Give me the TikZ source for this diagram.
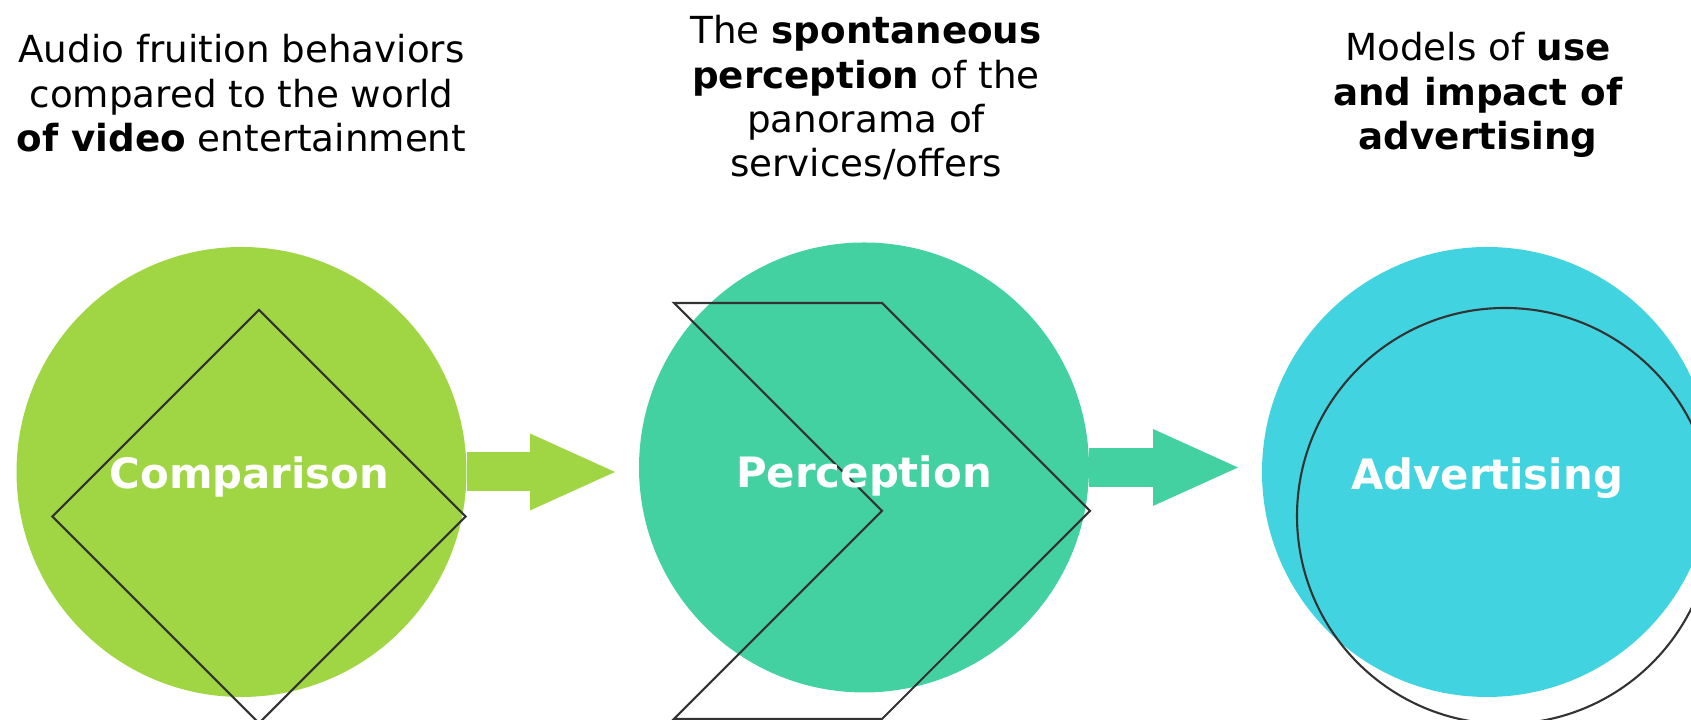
\documentclass[tikz,border=0pt]{standalone}
\usepackage{fontspec}
\setmainfont{DejaVu Sans}
\usetikzlibrary{arrows.meta,shapes.geometric}
\definecolor{cmpgreen}{HTML}{A0D543}
\definecolor{pergreen}{HTML}{44D1A1}
\definecolor{advcyan}{HTML}{41D4E0}
\definecolor{edge}{HTML}{333333}

\begin{document}
\begin{tikzpicture}[
    disc/.style={circle,minimum size=4.5cm,inner sep=0pt,outer sep=0pt},
    outline/.style={draw=edge,line width=0.6pt},
    tag/.style={text=white,font=\fontsize{11.9}{14}\selectfont\bfseries},
    caption/.style={align=center,anchor=north,inner sep=0pt,font=\fontsize{10.6}{12.6}\selectfont},
    flow/.style={line width=0.39cm,-{Triangle[length=0.85cm,width=0.77cm,line width=0pt]}}]

  \useasboundingbox (0,0) rectangle (16.91,7.2);
  \clip (0,0) rectangle (16.91,7.2);

  \node[disc,fill=cmpgreen] (cmp) at (2.415,2.48)  {};
  \node[disc,fill=pergreen] (per) at (8.64,2.525)  {};
  \node[disc,fill=advcyan]  (adv) at (14.87,2.48)  {};

  \coordinate (cmptip) at (6.15,2.48);
  \coordinate (pertip) at (12.38,2.525);
  \draw[flow,cmpgreen] (cmp.east) -- (cmptip);
  \draw[flow,pergreen] (per.east) -- (pertip);

  % outlines on top of the discs
  \node[diamond,outline,aspect=1,minimum width=4.14cm,minimum height=4.14cm,inner sep=0pt] (cmpmark) at (2.59,2.035) {};
  \draw[outline] (6.74,4.17) -- (8.82,4.17) -- (10.90,2.09) -- (8.82,0.01) -- (6.74,0.01) -- (8.82,2.09) -- cycle;
  \node[circle,outline,minimum size=4.16cm,inner sep=0pt] (advmark) at (15.05,2.04) {};

  \node[tag,xshift=0.08cm,yshift=-0.05cm] (cmptag) at (cmp) {Comparison};
  \node[tag,yshift=-0.08cm] (pertag) at (per) {Perception};
  \node[tag,yshift=-0.06cm] (advtag) at (adv) {Advertising};

  \node[caption] (cmpnote) at (2.415,6.86) {Audio fruition behaviors\\compared to the world\\\textbf{of video} entertainment};
  \node[caption] (pernote) at (8.66,7.05) {The \textbf{spontaneous}\\\textbf{perception} of the\\panorama of\\services/offers};
  \node[caption] (advnote) at (14.78,6.88) {Models of \textbf{use}\\\textbf{and impact of}\\\textbf{advertising}};
\end{tikzpicture}
\end{document}
